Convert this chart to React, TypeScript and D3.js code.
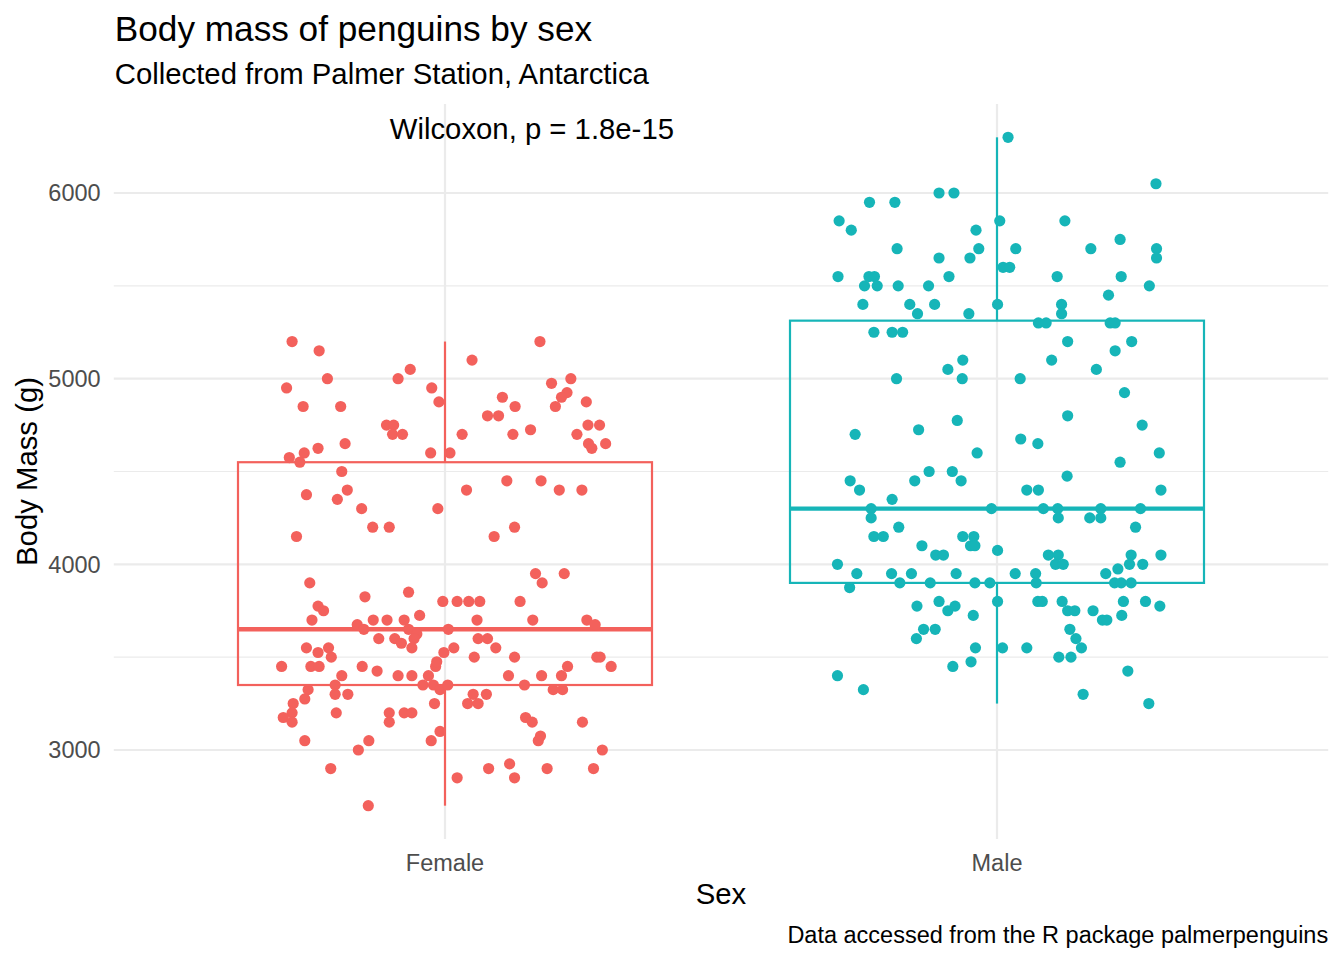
import React from "react";
import * as d3 from "d3";

// ---------- DATA ----------
const categories = ["Female", "Male"];
const colors = ["#F3615C", "#16B5B8"];
const yTicksMajor = [3000, 4000, 5000, 6000];
const yTicksMinor = [3500, 4500, 5500];
const yDomain = [2520, 6480];

// box statistics: [lowerWhisker, Q1, median, Q3, upperWhisker]
const femaleBox = [2700, 3350, 3650, 4550, 5200];
const maleBox = [3250, 3900, 4300, 5312.5, 6300];

// jittered points: [horizontal jitter (in category units), body mass (g)]
const femalePoints: [number, number][] = [
  [-0.277, 5200], [-0.228, 5150], [-0.213, 5000], [-0.287, 4950], [-0.085, 5000], [-0.063, 5050],
  [-0.024, 4950], [-0.011, 4875], [-0.257, 4850], [-0.189, 4850], [-0.106, 4750], [-0.093, 4750],
  [-0.095, 4700], [-0.077, 4700], [-0.230, 4625], [-0.181, 4650], [-0.255, 4600], [-0.282, 4575],
  [-0.263, 4550], [-0.026, 4600], [0.009, 4600], [-0.187, 4500], [-0.177, 4400], [-0.251, 4375],
  [-0.195, 4350], [-0.151, 4300], [-0.013, 4300], [-0.131, 4200], [-0.101, 4200], [-0.269, 4150],
  [0.172, 5200], [0.049, 5100], [0.193, 4975], [0.228, 5000], [0.221, 4925], [0.211, 4900],
  [0.200, 4850], [0.256, 4875], [0.104, 4900], [0.127, 4850], [0.077, 4800], [0.097, 4800],
  [0.031, 4700], [0.123, 4700], [0.155, 4725], [0.239, 4700], [0.259, 4750], [0.280, 4750],
  [0.260, 4650], [0.266, 4625], [0.291, 4650], [0.039, 4400], [0.112, 4450], [0.174, 4450],
  [0.207, 4400], [0.248, 4400], [0.126, 4200], [0.089, 4150], [0.164, 3950], [0.216, 3950],
  [-0.245, 3900], [-0.145, 3825], [-0.066, 3850], [-0.004, 3800], [-0.230, 3775], [-0.220, 3750],
  [-0.241, 3700], [-0.046, 3725], [-0.159, 3675], [-0.147, 3650], [-0.130, 3700], [-0.105, 3700],
  [-0.074, 3700], [-0.066, 3650], [-0.051, 3625], [-0.056, 3600], [-0.120, 3600], [-0.091, 3600],
  [-0.079, 3575], [-0.060, 3550], [0.006, 3650], [-0.251, 3550], [-0.230, 3525], [-0.211, 3550],
  [-0.206, 3500], [-0.296, 3450], [-0.243, 3450], [-0.228, 3450], [-0.150, 3450], [-0.123, 3425],
  [-0.187, 3400], [-0.085, 3400], [-0.060, 3400], [-0.030, 3400], [-0.017, 3450], [-0.015, 3475],
  [-0.002, 3525], [-0.199, 3350], [-0.248, 3325], [-0.040, 3350], [-0.021, 3350], [-0.009, 3325],
  [0.005, 3350], [-0.254, 3275], [-0.199, 3300], [-0.176, 3300], [-0.275, 3250], [-0.277, 3200],
  [-0.293, 3175], [-0.277, 3150], [-0.197, 3200], [-0.101, 3200], [-0.101, 3150], [-0.074, 3200],
  [-0.060, 3200], [-0.019, 3250], [-0.009, 3100], [-0.025, 3050], [-0.254, 3050], [-0.138, 3050],
  [-0.157, 3000], [-0.207, 2900], [-0.139, 2700],
  [0.176, 3900], [0.022, 3800], [0.043, 3800], [0.063, 3800], [0.136, 3800], [0.058, 3700],
  [0.159, 3700], [0.257, 3700], [0.272, 3675], [0.060, 3600], [0.077, 3600], [0.092, 3550],
  [0.016, 3550], [0.053, 3500], [0.126, 3500], [0.275, 3500], [0.281, 3500], [0.301, 3450],
  [0.222, 3450], [0.211, 3400], [0.175, 3400], [0.115, 3400], [0.144, 3350], [0.196, 3325],
  [0.213, 3325], [0.051, 3300], [0.075, 3300], [0.041, 3250], [0.060, 3250], [0.146, 3175],
  [0.158, 3150], [0.249, 3150], [0.173, 3075], [0.169, 3050], [0.285, 3000], [0.022, 2850],
  [0.079, 2900], [0.117, 2925], [0.126, 2850], [0.185, 2900], [0.269, 2900],
];

const malePoints: [number, number][] = [
  [-0.231, 5950], [-0.185, 5950], [-0.105, 6000], [-0.078, 6000], [-0.286, 5850], [-0.264, 5800],
  [0.005, 5850], [-0.038, 5800], [-0.181, 5700], [-0.033, 5700], [-0.105, 5650], [-0.049, 5650],
  [-0.288, 5550], [-0.232, 5550], [-0.222, 5550], [-0.240, 5500], [-0.217, 5500], [-0.179, 5500],
  [-0.124, 5500], [-0.087, 5550], [-0.243, 5400], [-0.158, 5400], [-0.144, 5350], [-0.113, 5400],
  [-0.051, 5350], [0.001, 5400], [-0.223, 5250], [-0.190, 5250], [-0.171, 5250], [-0.062, 5100],
  [-0.089, 5050], [-0.063, 5000], [-0.182, 5000], [-0.072, 4775],
  [0.020, 6300], [0.288, 6050], [0.123, 5850], [0.034, 5700], [0.170, 5700], [0.223, 5750],
  [0.289, 5700], [0.289, 5650], [0.011, 5600], [0.023, 5600], [0.109, 5550], [0.225, 5550],
  [0.276, 5500], [0.202, 5450], [0.117, 5400], [0.117, 5350], [0.075, 5300], [0.089, 5300],
  [0.205, 5300], [0.214, 5300], [0.128, 5200], [0.244, 5200], [0.099, 5100], [0.214, 5150],
  [0.180, 5050], [0.042, 5000], [0.231, 4925], [0.128, 4800], [0.263, 4750],
  [-0.257, 4700], [-0.142, 4725], [-0.036, 4600], [-0.266, 4450], [-0.249, 4400], [-0.149, 4450],
  [-0.123, 4500], [-0.081, 4500], [-0.065, 4450], [-0.190, 4350], [-0.228, 4300], [-0.228, 4250],
  [-0.010, 4300], [-0.178, 4200], [-0.223, 4150], [-0.206, 4150], [-0.136, 4100], [-0.111, 4050],
  [-0.097, 4050], [-0.062, 4150], [-0.042, 4150], [-0.048, 4100], [-0.040, 4100], [0.001, 4075],
  [-0.289, 4000], [-0.254, 3950], [-0.267, 3875], [-0.191, 3950], [-0.176, 3900], [-0.155, 3950],
  [-0.121, 3900], [-0.074, 3950], [-0.040, 3900], [-0.013, 3900], [0.001, 3800], [-0.145, 3775],
  [-0.105, 3800], [-0.089, 3750], [-0.076, 3775], [-0.043, 3725], [-0.133, 3650], [-0.112, 3650],
  [-0.146, 3600], [-0.039, 3550], [-0.047, 3475], [-0.080, 3450], [-0.289, 3400], [-0.242, 3325],
  [0.043, 4675], [0.074, 4650], [0.223, 4550], [0.294, 4600], [0.127, 4475], [0.054, 4400],
  [0.075, 4400], [0.297, 4400], [0.084, 4300], [0.110, 4300], [0.111, 4250], [0.168, 4250],
  [0.188, 4300], [0.188, 4250], [0.260, 4300], [0.251, 4200], [0.093, 4050], [0.111, 4050],
  [0.106, 4000], [0.120, 4000], [0.243, 4050], [0.240, 4000], [0.264, 4000], [0.297, 4050],
  [0.219, 3975], [0.197, 3950], [0.033, 3950], [0.070, 3950], [0.071, 3900], [0.213, 3900],
  [0.225, 3900], [0.243, 3900], [0.074, 3800], [0.082, 3800], [0.118, 3800], [0.128, 3750],
  [0.141, 3750], [0.174, 3750], [0.191, 3700], [0.199, 3700], [0.226, 3725], [0.229, 3800],
  [0.269, 3800], [0.295, 3775], [0.132, 3650], [0.143, 3600], [0.153, 3550], [0.010, 3550],
  [0.054, 3550], [0.112, 3500], [0.134, 3500], [0.237, 3425], [0.156, 3300], [0.275, 3250],
];

const pointsByGroup = [femalePoints, malePoints];
const boxesByGroup = [femaleBox, maleBox];

const titleText = "Body mass of penguins by sex";
const subtitleText = "Collected from Palmer Station, Antarctica";
const captionText = "Data accessed from the R package palmerpenguins";
const xTitle = "Sex";
const yTitle = "Body Mass (g)";
const testLabel = "Wilcoxon, p = 1.8e-15";
const testLabelPos = [-0.1, 6350]; // offset from first category, mass

// ---------- LAYOUT ----------
const W = 1344;
const H = 960;
const panel = { left: 113.8, right: 1328.2, top: 103.9, bottom: 839.1 };
const FONT = "'Liberation Sans', Arial, Helvetica, sans-serif";

export default function App() {
  const x = d3
    .scalePoint<string>()
    .domain(categories)
    .range([panel.left, panel.right])
    .padding(0.6);
  const step = x.step();
  const y = d3.scaleLinear().domain(yDomain).range([panel.bottom, panel.top]);
  const boxHalf = 0.375 * step;

  return (
    <svg
      width={W}
      height={H}
      style={{ position: "absolute", left: 0, top: 0, background: "#fff" }}
      fontFamily={FONT}
    >
      <rect x={0} y={0} width={W} height={H} fill="#fff" />
      {/* grid */}
      {yTicksMinor.map((t) => (
        <line key={"mn" + t} x1={panel.left} x2={panel.right} y1={y(t)} y2={y(t)} stroke="#EBEBEB" strokeWidth={1.2} />
      ))}
      {yTicksMajor.map((t) => (
        <line key={"mj" + t} x1={panel.left} x2={panel.right} y1={y(t)} y2={y(t)} stroke="#EBEBEB" strokeWidth={2.2} />
      ))}
      {categories.map((c) => (
        <line key={"vx" + c} x1={x(c)} x2={x(c)} y1={panel.top} y2={panel.bottom} stroke="#EBEBEB" strokeWidth={2.2} />
      ))}

      {/* boxplots */}
      {categories.map((c, i) => {
        const [lw, q1, med, q3, uw] = boxesByGroup[i];
        const cx = x(c) as number;
        const col = colors[i];
        return (
          <g key={"box" + c} stroke={col} fill="none">
            <line x1={cx} x2={cx} y1={y(q3)} y2={y(uw)} strokeWidth={2.2} />
            <line x1={cx} x2={cx} y1={y(q1)} y2={y(lw)} strokeWidth={2.2} />
            <rect x={cx - boxHalf} y={y(q3)} width={2 * boxHalf} height={y(q1) - y(q3)} strokeWidth={2.2} />
            <line x1={cx - boxHalf} x2={cx + boxHalf} y1={y(med)} y2={y(med)} strokeWidth={4.4} />
          </g>
        );
      })}

      {/* jittered points */}
      {categories.map((c, i) => {
        const cx = x(c) as number;
        return (
          <g key={"pts" + c} fill={colors[i]}>
            {pointsByGroup[i].map(([j, m], k) => (
              <circle key={k} cx={cx + j * step} cy={y(m)} r={5.6} />
            ))}
          </g>
        );
      })}

      {/* test annotation */}
      <text
        x={(x(categories[0]) as number) + testLabelPos[0] * step}
        y={y(testLabelPos[1])}
        dy="0.36em"
        fontSize={29.3}
        fill="#000"
      >
        {testLabel}
      </text>

      {/* y axis labels */}
      {yTicksMajor.map((t) => (
        <text key={"yt" + t} x={panel.left - 13.2} y={y(t)} dy="0.36em" textAnchor="end" fontSize={23.5} fill="#4D4D4D">
          {t}
        </text>
      ))}
      {/* x axis labels */}
      {categories.map((c) => (
        <text key={"xt" + c} x={x(c)} y={870.5} textAnchor="middle" fontSize={23.5} fill="#4D4D4D">
          {c}
        </text>
      ))}

      {/* axis titles */}
      <text x={(panel.left + panel.right) / 2} y={903.5} textAnchor="middle" fontSize={29.3} fill="#000">
        {xTitle}
      </text>
      <text
        transform={`translate(36.5, ${(panel.top + panel.bottom) / 2}) rotate(-90)`}
        textAnchor="middle"
        fontSize={29.3}
        fill="#000"
      >
        {yTitle}
      </text>

      {/* titles */}
      <text x={panel.left + 1} y={40.5} fontSize={35.2} fill="#000">
        {titleText}
      </text>
      <text x={panel.left + 1} y={83.5} fontSize={29.3} fill="#000">
        {subtitleText}
      </text>
      <text x={panel.right} y={942.5} textAnchor="end" fontSize={23.5} fill="#000">
        {captionText}
      </text>
    </svg>
  );
}
